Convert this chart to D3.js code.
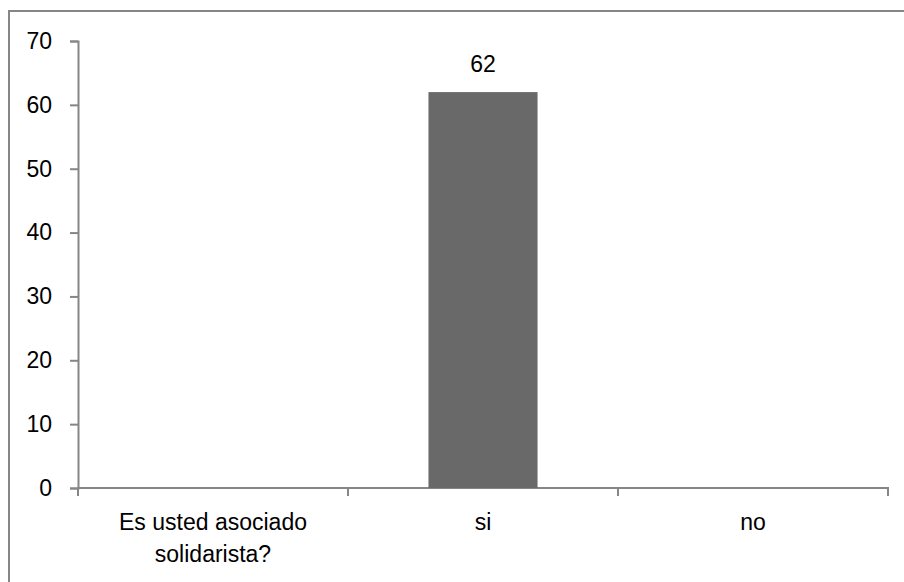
<!DOCTYPE html>
<html>
<head>
<meta charset="utf-8">
<script src="https://cdn.jsdelivr.net/npm/d3@7"></script>
<style>
  html, body { margin: 0; padding: 0; background: #fff; }
  svg { display: block; }
  text { font-family: "Liberation Sans", Arial, sans-serif; fill: #000; }
</style>
</head>
<body>
<svg id="chart" width="904" height="582"></svg>
<script>
// Survey answers: first entry is the question itself, with no count
const categories = ["Es usted asociado solidarista?", "si", "no"];
const values = [null, 62, null];
const yTicks = [0, 10, 20, 30, 40, 50, 60, 70];

const svg = d3.select("#chart");
const fontSize = 23;
const axisColor = "#868686";

// chart frame
svg.append("rect")
  .attr("x", 9).attr("y", 11)
  .attr("width", 900).attr("height", 580)
  .attr("fill", "none")
  .attr("stroke", axisColor)
  .attr("stroke-width", 2);

const plotLeft = 78, plotRight = 888, plotTop = 41, plotBottom = 488;

const y = d3.scaleLinear().domain([0, 70]).range([plotBottom, plotTop]);
const x = d3.scaleBand().domain(categories).range([plotLeft, plotRight]).padding(0);

// y axis
const yAxis = svg.append("g")
  .attr("transform", `translate(${plotLeft},0)`)
  .call(d3.axisLeft(y).tickValues(yTicks).tickSize(8).tickPadding(18).tickFormat(d3.format("d")));
yAxis.select(".domain").attr("stroke", axisColor).attr("stroke-width", 2);
yAxis.selectAll(".tick line").attr("stroke", axisColor).attr("stroke-width", 2);
yAxis.selectAll(".tick text")
  .attr("font-size", fontSize)
  .attr("font-family", "Liberation Sans, Arial, sans-serif")
  .attr("fill", "#000");

// x axis line and category boundary ticks
const xAxis = svg.append("g").attr("transform", `translate(0,${plotBottom})`);
xAxis.append("line")
  .attr("x1", plotLeft).attr("x2", plotRight)
  .attr("stroke", axisColor).attr("stroke-width", 2);
const boundaries = categories.map(c => x(c)).concat([x(categories[categories.length - 1]) + x.bandwidth()]);
xAxis.selectAll("line.tk").data(boundaries).join("line")
  .attr("class", "tk")
  .attr("x1", d => d).attr("x2", d => d)
  .attr("y1", -1).attr("y2", 8)
  .attr("stroke", axisColor).attr("stroke-width", 2);

// category labels, wrapped onto two lines where needed
const wrapped = {"Es usted asociado solidarista?": ["Es usted asociado", "solidarista?"]};
const catLabels = xAxis.selectAll("text.cat").data(categories).join("text")
  .attr("class", "cat")
  .attr("text-anchor", "middle")
  .attr("font-size", fontSize)
  .attr("x", d => x(d) + x.bandwidth() / 2)
  .attr("y", 42);
catLabels.each(function(d) {
  const lines = wrapped[d] || [d];
  d3.select(this).selectAll("tspan").data(lines).join("tspan")
    .attr("x", x(d) + x.bandwidth() / 2)
    .attr("dy", (l, i) => i === 0 ? 0 : 32)
    .text(l => l);
});

// bars
const barW = x.bandwidth() * 0.404;
const barData = categories.map((c, i) => ({c, v: values[i]})).filter(d => d.v != null);
svg.selectAll("rect.bar").data(barData).join("rect")
  .attr("class", "bar")
  .attr("x", d => x(d.c) + (x.bandwidth() - barW) / 2)
  .attr("width", barW)
  .attr("y", d => y(d.v))
  .attr("height", d => y(0) - y(d.v))
  .attr("fill", "#696969");

// value labels
svg.selectAll("text.val").data(barData).join("text")
  .attr("class", "val")
  .attr("text-anchor", "middle")
  .attr("font-size", fontSize)
  .attr("x", d => x(d.c) + x.bandwidth() / 2)
  .attr("y", d => y(d.v) - 20)
  .text(d => d.v);
</script>
</body>
</html>
